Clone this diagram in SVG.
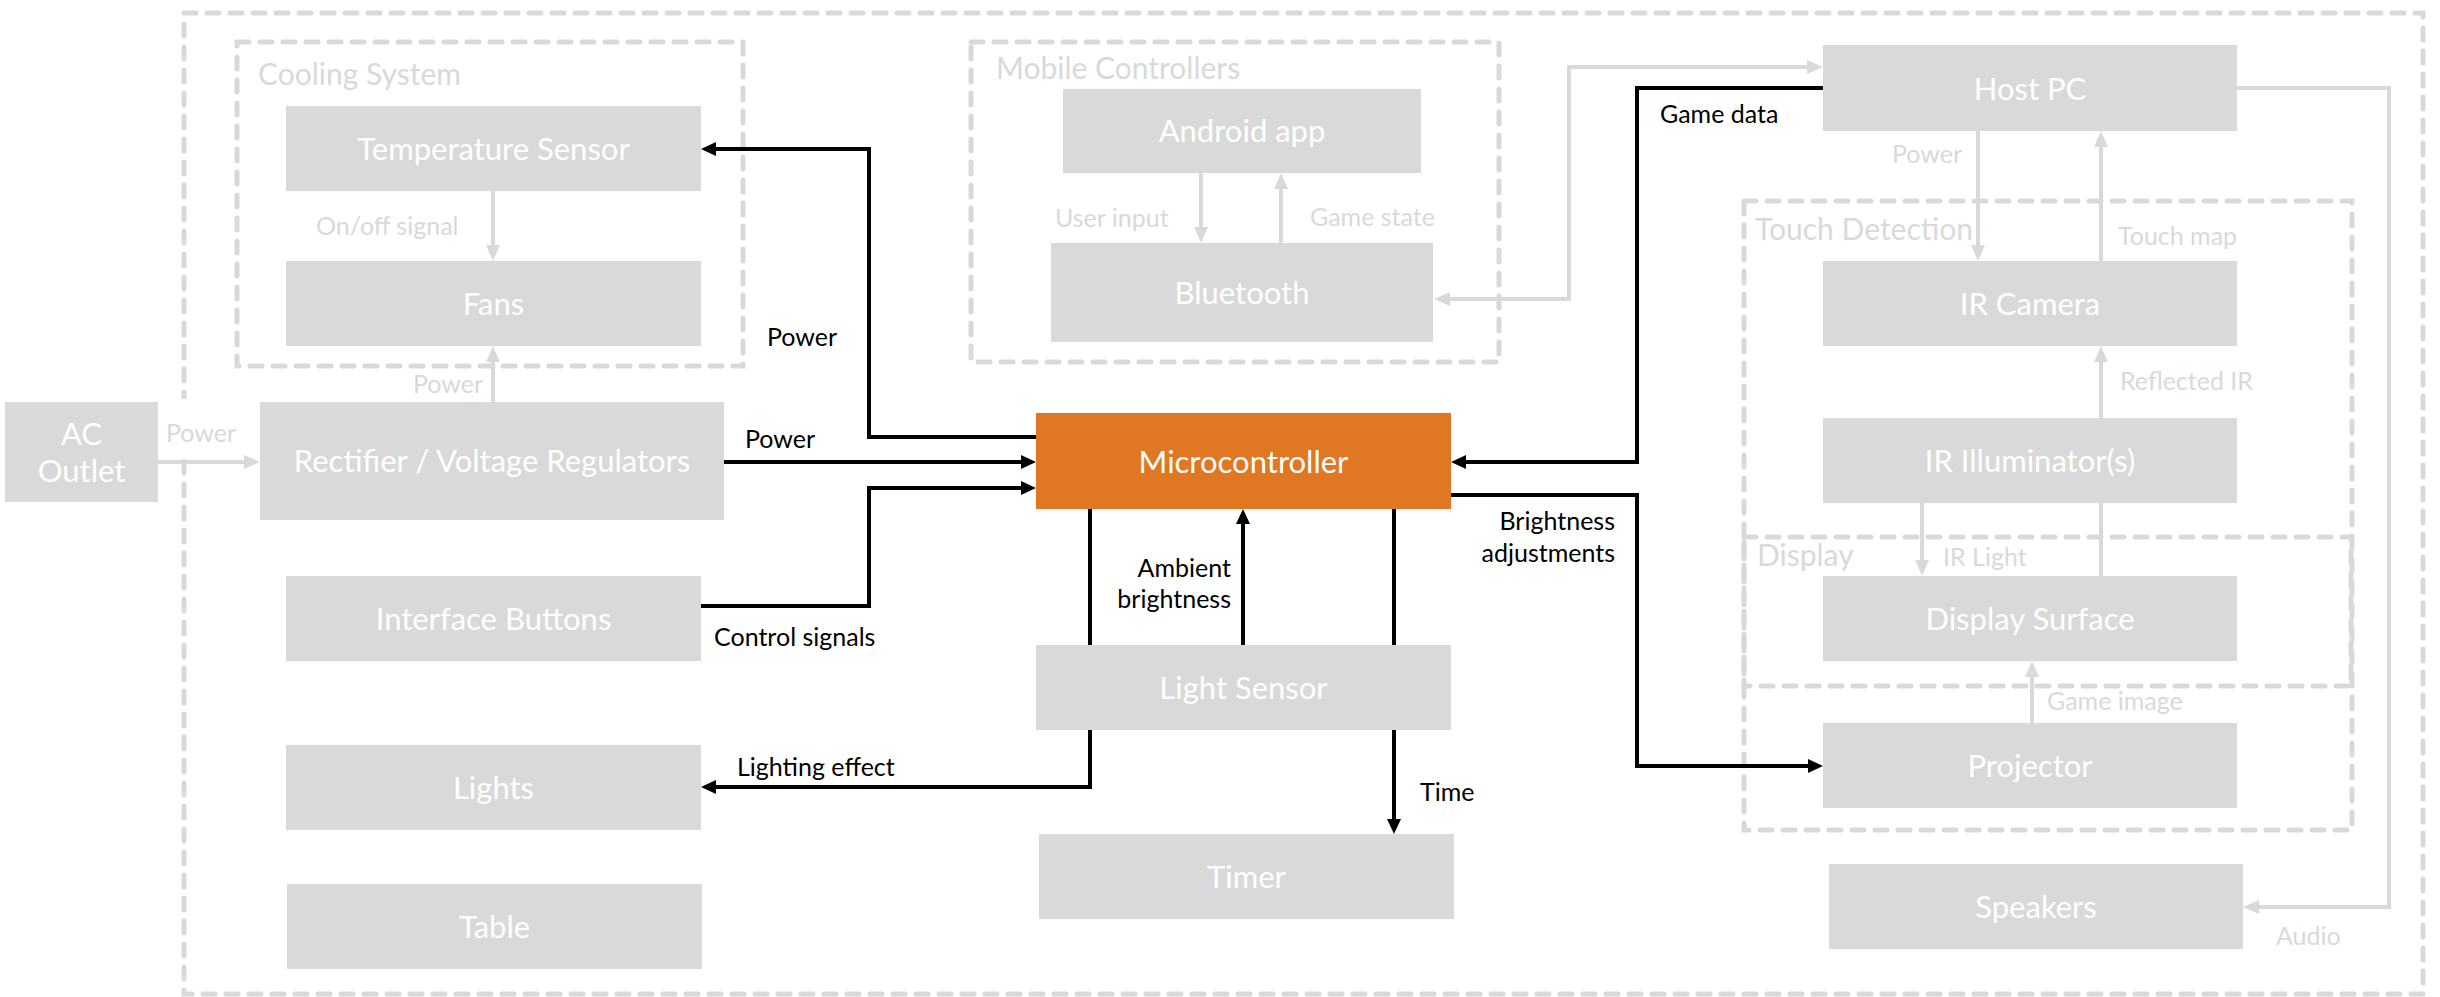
<svg xmlns="http://www.w3.org/2000/svg" width="2440" height="997" viewBox="0 0 2440 997">
  <style>
    .frame { fill: none; stroke: #d9d9d9; stroke-width: 5; stroke-dasharray: 12 11; stroke-linecap: round; }
    .box { fill: #d9d9d9; }
    .core { fill: #e07722; }
    .ntext { font-family: Lato, "Open Sans", sans-serif; font-size: 31px; fill: #ffffff; text-anchor: middle; }
    .gtitle { font-family: Lato, "Open Sans", sans-serif; font-size: 30px; fill: #d9d9d9; }
    .glabel { font-family: Lato, "Open Sans", sans-serif; font-size: 25px; fill: #d9d9d9; }
    .blabel { font-family: Lato, "Open Sans", sans-serif; font-size: 25px; fill: #000000; }
    .end { text-anchor: end; }
    .gline { fill: none; stroke: #d9d9d9; stroke-width: 4; }
    .bline { fill: none; stroke: #000000; stroke-width: 4; }
  </style>
  <defs>
    <marker id="arrow-gray" markerUnits="userSpaceOnUse" markerWidth="16" markerHeight="16" refX="10" refY="7" orient="auto-start-reverse">
      <path d="M0,0 L16,7 L0,14 z" fill="#d9d9d9"/>
    </marker>
    <marker id="arrow-black" markerUnits="userSpaceOnUse" markerWidth="16" markerHeight="16" refX="9" refY="7" orient="auto-start-reverse">
      <path d="M0,0 L15,7 L0,14 z" fill="#000000"/>
    </marker>
  </defs>

  <!-- subsystem frames -->
  <g id="frames">
    <rect id="table-enclosure" class="frame" x="184" y="13" width="2239" height="981"/>
    <g id="cooling-system">
      <rect class="frame" x="237" y="42" width="506" height="324"/>
      <text class="gtitle" x="258" y="85">Cooling System</text>
    </g>
    <g id="mobile-controllers">
      <rect class="frame" x="971" y="42" width="528" height="320"/>
      <text class="gtitle" x="996" y="79">Mobile Controllers</text>
    </g>
    <g id="touch-detection">
      <rect class="frame" x="1744" y="201" width="608" height="629"/>
      <text class="gtitle" x="1755" y="240">Touch Detection</text>
    </g>
    <g id="display">
      <rect class="frame" x="1744" y="537" width="607" height="149"/>
      <text class="gtitle" x="1757" y="566">Display</text>
    </g>
  </g>

  <!-- connectors -->
  <g id="connectors">
    <!-- label backing where the mains feed crosses the enclosure edge -->
    <rect x="161" y="399" width="80" height="60" fill="#ffffff"/>
    <path class="gline" d="M158 462 H254" marker-end="url(#arrow-gray)"/>
    <path class="gline" d="M493 402 V352" marker-end="url(#arrow-gray)"/>
    <path class="gline" d="M493 191 V255" marker-end="url(#arrow-gray)"/>
    <path class="gline" d="M1201 173 V237" marker-end="url(#arrow-gray)"/>
    <path class="gline" d="M1281 243 V179" marker-end="url(#arrow-gray)"/>
    <path class="gline" d="M1440 299 H1569 V67 H1817" marker-start="url(#arrow-gray)" marker-end="url(#arrow-gray)"/>
    <path class="gline" d="M1978 131 V255" marker-end="url(#arrow-gray)"/>
    <path class="gline" d="M2101 261 V137" marker-end="url(#arrow-gray)"/>
    <path class="gline" d="M2101 576 V352" marker-end="url(#arrow-gray)"/>
    <path class="gline" d="M1922 503 V570" marker-end="url(#arrow-gray)"/>
    <path class="gline" d="M2032 723 V667" marker-end="url(#arrow-gray)"/>
    <path class="gline" d="M2237 88 H2389 V907 H2249" marker-end="url(#arrow-gray)"/>

    <path class="bline" d="M1036 437 H869 V149 H707" marker-end="url(#arrow-black)"/>
    <path class="bline" d="M724 462 H1030" marker-end="url(#arrow-black)"/>
    <path class="bline" d="M701 606 H869 V488 H1030" marker-end="url(#arrow-black)"/>
    <path class="bline" d="M1090 509 V787 H707" marker-end="url(#arrow-black)"/>
    <path class="bline" d="M1243 645 V515" marker-end="url(#arrow-black)"/>
    <path class="bline" d="M1394 509 V828" marker-end="url(#arrow-black)"/>
    <path class="bline" d="M1823 88 H1637 V462 H1457" marker-end="url(#arrow-black)"/>
    <path class="bline" d="M1451 495 H1637 V766 H1817" marker-end="url(#arrow-black)"/>

    <text class="glabel" x="166" y="442">Power</text>
    <text class="glabel" x="413" y="393">Power</text>
    <text class="glabel" x="316" y="235">On/off signal</text>
    <text class="glabel" x="1055" y="227">User input</text>
    <text class="glabel" x="1310" y="226">Game state</text>
    <text class="glabel" x="1892" y="163">Power</text>
    <text class="glabel" x="2118" y="245">Touch map</text>
    <text class="glabel" x="2120" y="390">Reflected IR</text>
    <text class="glabel" x="1943" y="566">IR Light</text>
    <text class="glabel" x="2047" y="710">Game image</text>
    <text class="glabel" x="2276" y="945">Audio</text>

    <text class="blabel" x="767" y="346">Power</text>
    <text class="blabel" x="745" y="448">Power</text>
    <text class="blabel" x="714" y="646">Control signals</text>
    <text class="blabel" x="737" y="776">Lighting effect</text>
    <text class="blabel end" x="1231" y="577">Ambient</text>
    <text class="blabel end" x="1231" y="608">brightness</text>
    <text class="blabel" x="1420" y="801">Time</text>
    <text class="blabel end" x="1615" y="530">Brightness</text>
    <text class="blabel end" x="1615" y="562">adjustments</text>
    <text class="blabel" x="1660" y="123">Game data</text>
  </g>

  <!-- components -->
  <g id="ac-outlet">
    <rect class="box" x="5" y="402" width="153" height="100"/>
    <text class="ntext" x="81.5" y="445">AC</text>
    <text class="ntext" x="81.5" y="482">Outlet</text>
  </g>
  <g id="rectifier">
    <rect class="box" x="260" y="402" width="464" height="118"/>
    <text class="ntext" x="492" y="472">Rectifier / Voltage Regulators</text>
  </g>
  <g id="temperature-sensor">
    <rect class="box" x="286" y="106" width="415" height="85"/>
    <text class="ntext" x="493.5" y="160">Temperature Sensor</text>
  </g>
  <g id="fans">
    <rect class="box" x="286" y="261" width="415" height="85"/>
    <text class="ntext" x="493.5" y="315">Fans</text>
  </g>
  <g id="interface-buttons">
    <rect class="box" x="286" y="576" width="415" height="85"/>
    <text class="ntext" x="493.5" y="630">Interface Buttons</text>
  </g>
  <g id="lights">
    <rect class="box" x="286" y="745" width="415" height="85"/>
    <text class="ntext" x="493.5" y="799">Lights</text>
  </g>
  <g id="table">
    <rect class="box" x="287" y="884" width="415" height="85"/>
    <text class="ntext" x="494.5" y="938">Table</text>
  </g>
  <g id="android-app">
    <rect class="box" x="1063" y="89" width="358" height="84"/>
    <text class="ntext" x="1242" y="142">Android app</text>
  </g>
  <g id="bluetooth">
    <rect class="box" x="1051" y="243" width="382" height="99"/>
    <text class="ntext" x="1242" y="304">Bluetooth</text>
  </g>
  <g id="microcontroller">
    <rect class="core" x="1036" y="413" width="415" height="96"/>
    <text class="ntext" x="1243.5" y="473">Microcontroller</text>
  </g>
  <g id="light-sensor">
    <rect class="box" x="1036" y="645" width="415" height="85"/>
    <text class="ntext" x="1243.5" y="699">Light Sensor</text>
  </g>
  <g id="timer">
    <rect class="box" x="1039" y="834" width="415" height="85"/>
    <text class="ntext" x="1246.5" y="888">Timer</text>
  </g>
  <g id="host-pc">
    <rect class="box" x="1823" y="45" width="414" height="86"/>
    <text class="ntext" x="2030" y="100">Host PC</text>
  </g>
  <g id="ir-camera">
    <rect class="box" x="1823" y="261" width="414" height="85"/>
    <text class="ntext" x="2030" y="315">IR Camera</text>
  </g>
  <g id="ir-illuminators">
    <rect class="box" x="1823" y="418" width="414" height="85"/>
    <text class="ntext" x="2030" y="472">IR Illuminator(s)</text>
  </g>
  <g id="display-surface">
    <rect class="box" x="1823" y="576" width="414" height="85"/>
    <text class="ntext" x="2030" y="630">Display Surface</text>
  </g>
  <g id="projector">
    <rect class="box" x="1823" y="723" width="414" height="85"/>
    <text class="ntext" x="2030" y="777">Projector</text>
  </g>
  <g id="speakers">
    <rect class="box" x="1829" y="864" width="414" height="85"/>
    <text class="ntext" x="2036" y="918">Speakers</text>
  </g>
</svg>
